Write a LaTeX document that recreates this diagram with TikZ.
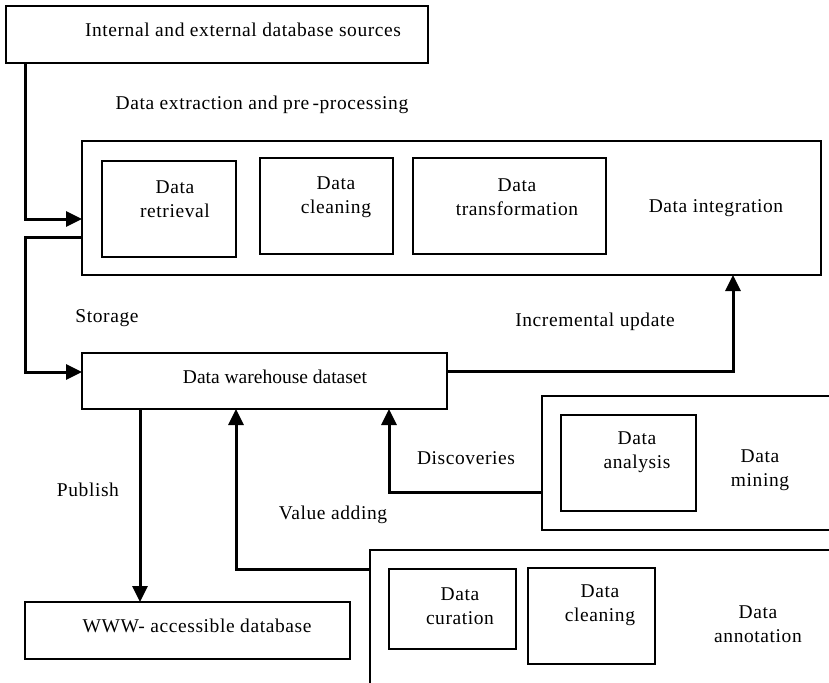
\documentclass[tikz,border=0pt]{standalone}
\usepackage{fontspec}
\setmainfont[LetterSpace=3]{Liberation Serif}
\newfontfamily\plainfont{Liberation Serif}
\usetikzlibrary{arrows.meta}
\begin{document}
\begin{tikzpicture}[x=1pt,y=-1pt,
  box/.style={draw, line width=1.6pt, inner sep=0pt, outer sep=0pt, anchor=north west},
  lbl/.style={font=\fontsize{19.5}{24}\selectfont, align=center, inner sep=0pt},
  arr/.style={line width=3pt, -{Triangle[length=16pt,width=15pt]}},
  plain/.style={line width=3pt}]
\useasboundingbox (0,0) rectangle (829,682);
\clip (0,0) rectangle (829,682);
% boxes
\node[box, minimum width=422pt, minimum height=57pt] (src) at (6,6) {};
\node[box, minimum width=739pt, minimum height=134pt] (integ) at (82,141) {};
\node[box, minimum width=134pt, minimum height=96pt] (retr) at (102,161) {};
\node[box, minimum width=133pt, minimum height=96pt] (clean1) at (260,158) {};
\node[box, minimum width=193pt, minimum height=96pt] (trans) at (413,158) {};
\node[box, minimum width=365pt, minimum height=56pt] (wh) at (82,353) {};
\node[box, minimum width=320pt, minimum height=134pt] (mining) at (542,396) {};
\node[box, minimum width=135pt, minimum height=96pt] (anal) at (561,415) {};
\node[box, minimum width=500pt, minimum height=200pt] (annot) at (370,550) {};
\node[box, minimum width=127pt, minimum height=80pt] (cur) at (389,569) {};
\node[box, minimum width=127pt, minimum height=96pt] (clean2) at (528,568) {};
\node[box, minimum width=325pt, minimum height=57pt] (www) at (25,602) {};
% texts
\node[lbl] (tsrc) at (243,30) {Internal and external database sources};
\node[lbl] (textr) at (262,105) {Data extraction and pre\,-processing};
\node[lbl] (tretr) at (175,199) {Data\\retrieval};
\node[lbl] (tclean1) at (336,197) {Data\\cleaning};
\node[lbl] (ttrans) at (517,197) {Data\\transformation};
\node[lbl] (tinteg) at (716,208) {Data integration};
\node[lbl] (tstor) at (107,318) {Storage};
\node[lbl] (tinc) at (595,322) {Incremental update};
\node[lbl] (twh) at (275,377) {\plainfont Data warehouse dataset};
\node[lbl] (tanal) at (637,452) {Data\\analysis};
\node[lbl] (tmin) at (760,470) {Data\\mining};
\node[lbl] (tdisc) at (466,458) {Discoveries};
\node[lbl] (tpub) at (88,490) {Publish};
\node[lbl] (tval) at (333,515) {Value adding};
\node[lbl] (tcur) at (460,606) {Data\\curation};
\node[lbl] (tclean2) at (600,605) {Data\\cleaning};
\node[lbl] (tann) at (758,624) {Data\\annotation};
\node[lbl] (twww) at (197,626) {WWW- accessible database};
% connectors
\draw[arr] ([xshift=19pt]src.south west) |- ([yshift=-78pt]integ.north west);
\draw[arr] ([yshift=-96pt]integ.north west) -- ++(-57,0) |- ([yshift=-19pt]wh.north west);
\draw[arr] ([yshift=10pt]wh.east) -| ([xshift=651pt]integ.south west);
\draw[arr] ([yshift=-96pt]mining.north west) -| ([xshift=307pt]wh.south west);
\draw[arr] ([yshift=-19pt]annot.north west) -| ([xshift=154pt]wh.south west);
\draw[arr] ([xshift=58pt]wh.south west) coordinate (pub) -- (pub |- www.north);
\end{tikzpicture}
\end{document}
